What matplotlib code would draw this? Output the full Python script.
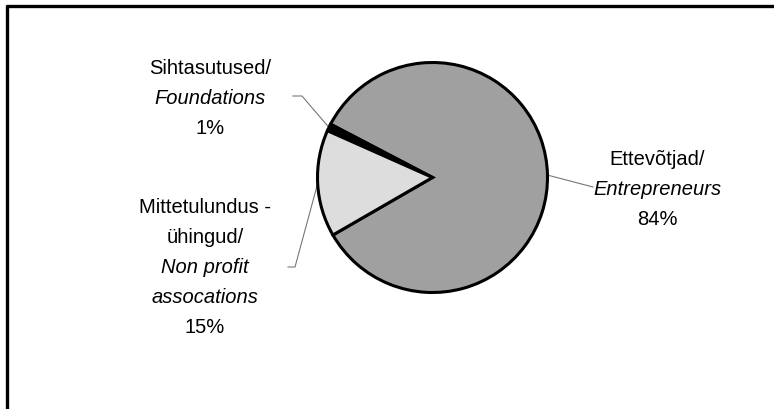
import numpy as np
import matplotlib
matplotlib.use("Agg")
import matplotlib.pyplot as plt

# data
shares = [84, 1, 15]
names_et = [["Ettevõtjad/"], ["Sihtasutused/"], ["Mittetulundus -", "ühingud/"]]
names_en = [["Entrepreneurs"], ["Foundations"], ["Non profit", "assocations"]]
colors = ["#a0a0a0", "#000000", "#dddddd"]

W, H = 774, 410
plt.rcParams['font.family'] = ['Liberation Sans', 'DejaVu Sans']

fig = plt.figure(figsize=(W / 100, H / 100), dpi=100)
ax = fig.add_axes([0, 0, 1, 1])
ax.set_xlim(0, W)
ax.set_ylim(H, 0)
ax.axis("off")

cx, cy, r = 432.5, 178.5, 115
# pie drawn on y-down axes -> use negative start and clockwise order to get same look
wedges, _ = ax.pie(shares, colors=colors, startangle=-210, counterclock=False,
                   center=(cx, cy), radius=r, frame=True,
                   wedgeprops=dict(edgecolor="black", linewidth=2.2))
ax.set_xlim(0, W)
ax.set_ylim(H, 0)
ax.set_aspect("equal")
ax.axis("off")

# label layout: text centre x, first line y, elbow of leader line
layout = [
    dict(x=657, y=160, elbow=None, end=(593, 188)),
    dict(x=210, y=68, elbow=(302, 97), end=(293, 97)),
    dict(x=205, y=208, elbow=(295, 268), end=(288, 268)),
]
step = 30

for w, share, et, en, lay in zip(wedges, shares, names_et, names_en, layout):
    mid = np.deg2rad((w.theta1 + w.theta2) / 2)
    ax_x = cx + r * np.cos(mid)
    ax_y = cy + r * np.sin(mid)
    pts = [(ax_x, ax_y)]
    if lay["elbow"] is not None:
        pts.append(lay["elbow"])
    pts.append(lay["end"])
    xs, ys = zip(*pts)
    ax.plot(xs, ys, color="#777777", lw=0.8, zorder=0.5)

    lines = [(t, "normal") for t in et] + [(t, "italic") for t in en] + [(f"{share}%", "normal")]
    for i, (t, style) in enumerate(lines):
        ax.text(lay["x"], lay["y"] + i * step, t, ha="center", va="center",
                fontsize=14.5, style=style, color="black")

# chart border (right/bottom lie outside the picture)
ax.plot([6, W + 5], [7, 7], color="black", lw=2.4, clip_on=False, solid_capstyle="butt")
ax.plot([7, 7], [6, H + 5], color="black", lw=2.4, clip_on=False, solid_capstyle="butt")

fig.savefig("out.png", dpi=100)
